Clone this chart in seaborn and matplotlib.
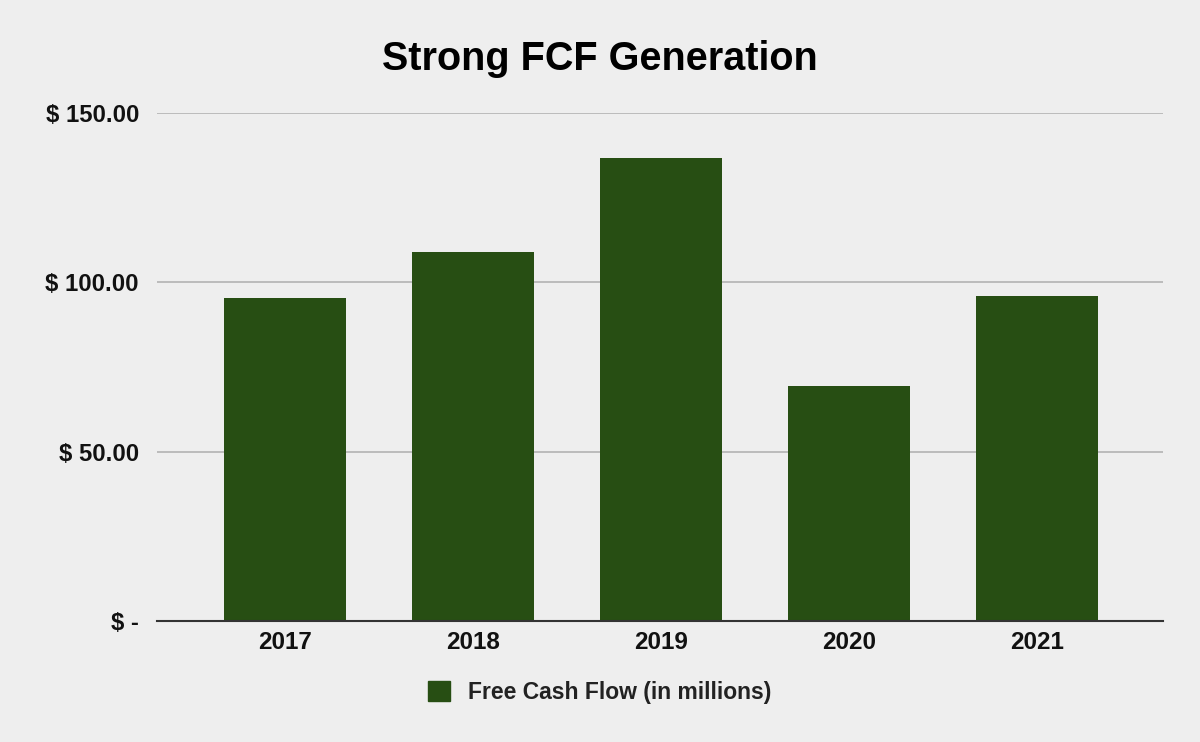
import matplotlib
matplotlib.use("Agg")
import matplotlib.pyplot as plt
import matplotlib.font_manager as fm
import seaborn as sns
import pandas as pd
from matplotlib.patches import Patch

years = ["2017", "2018", "2019", "2020", "2021"]
fcf = [95.3, 108.9, 136.6, 69.3, 96.0]
yticks = [0, 50, 100, 150]
ytick_labels = ["$ -", "$ 50.00", "$ 100.00", "$ 150.00"]
series_name = "Free Cash Flow (in millions)"
title = "Strong FCF Generation"

bar_color = "#274e13"
bg = "#eeeeee"

sns.set_style("white")
plt.rcParams['font.family'] = ['Liberation Sans', 'DejaVu Sans']

bold_path = None
for f in fm.findSystemFonts():
    if f.endswith("LiberationSans-Bold.ttf"):
        bold_path = f
        break


def fp(size):
    if bold_path:
        return fm.FontProperties(fname=bold_path, size=size)
    return fm.FontProperties(family="Liberation Sans", weight="bold", size=size)


df = pd.DataFrame({"Year": years, "FCF": fcf})

fig = plt.figure(figsize=(12, 7.42), dpi=100, facecolor=bg)
ax = fig.add_axes([0.1308, 0.1632, 0.9692 - 0.1308, 0.848 - 0.1632])
ax.set_facecolor(bg)

sns.barplot(data=df, x="Year", y="FCF", color=bar_color, width=0.65,
            saturation=1, ax=ax, zorder=3, linewidth=0, edgecolor="none")

ax.set_ylim(0, 150)
ax.set_xlim(-0.681, 4.67)
ax.set_yticks(yticks)
ax.set_yticklabels(ytick_labels)
ax.yaxis.grid(True, color="#b7b7b7", linewidth=1.3, zorder=0)
ax.set_axisbelow(True)
for s in ["top", "right", "left"]:
    ax.spines[s].set_visible(False)
ax.spines["bottom"].set_color("#333333")
ax.spines["bottom"].set_linewidth(1.5)
ax.spines["bottom"].set_zorder(4)
ax.tick_params(axis="both", length=0, colors="#111111")
ax.tick_params(axis="x", pad=7)
ax.tick_params(axis="y", pad=13)
for lbl in ax.get_xticklabels():
    lbl.set_fontproperties(fp(17.5))
for lbl in ax.get_yticklabels():
    lbl.set_fontproperties(fp(17.2))
ax.set_xlabel("")
ax.set_ylabel("")

fig.text(0.5, 0.92, title, ha="center", va="center",
         fontproperties=fp(28.5), color="#000000")

handles = [Patch(facecolor=bar_color, edgecolor=bar_color, label=series_name)]
fig.legend(handles=handles, loc="center", bbox_to_anchor=(0.5, 0.067),
           frameon=False, prop=fp(16.5),
           handlelength=0.95, handleheight=0.95, handletextpad=0.8,
           labelcolor="#222222")

fig.savefig("out.png", dpi=100, facecolor=bg)
